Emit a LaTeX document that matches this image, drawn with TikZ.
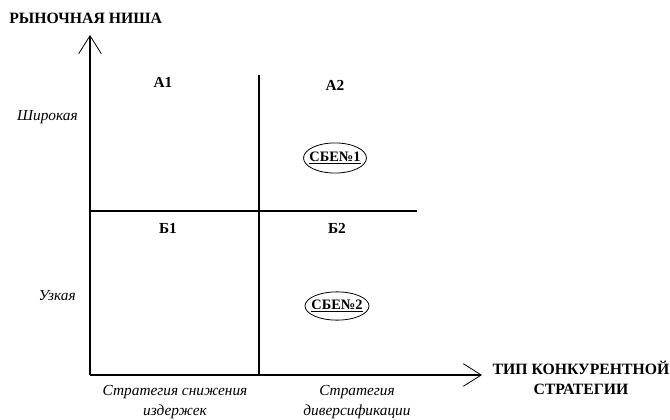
\documentclass[tikz,border=0pt]{standalone}
\usepackage{fontspec}
\setmainfont{Liberation Serif}
\usetikzlibrary{arrows.meta,shapes.geometric}
\begin{document}
\begin{tikzpicture}[x=0.75pt,y=-0.75pt,
  axis/.style={line width=0.8pt,-{Straight Barb[length=13.5pt,width=17pt,line width=0.6pt]}},
  divider/.style={line width=0.8pt},
  boldlbl/.style={font=\fontsize{11.8}{14}\selectfont\bfseries,inner sep=0pt},
  itlbl/.style={font=\fontsize{11.5}{14}\selectfont\itshape,inner sep=0pt},
  cell/.style={font=\fontsize{11.5}{14}\selectfont\bfseries,inner sep=0pt},
  sbetext/.style={inner sep=0pt,font=\fontsize{10.8}{13}\selectfont\bfseries},
  sbering/.style={draw,line width=0.6pt}
]
\useasboundingbox (0,0) rectangle (670,420);
\coordinate (o) at (90,375);
\coordinate (ytip) at (90,35);
\coordinate (xtip) at (482,375);
\coordinate (vtop) at (259,75);
\coordinate (vbot) at (259,375);
\coordinate (hl) at (90,211);
\coordinate (hr) at (417,211);
\draw[axis] (o) -- (ytip);
\draw[axis] (o) -- (xtip);
\draw[divider] (vtop) -- (vbot);
\draw[divider] (hl) -- (hr);

\node[boldlbl,anchor=west] (yl) at (9,18) {РЫНОЧНАЯ НИША};
\node[boldlbl,align=center] (xl) at (581,378) {ТИП КОНКУРЕНТНОЙ\\[1pt]СТРАТЕГИИ};

\node[cell] (a1) at (163,82) {А1};
\node[cell] (a2) at (335,85) {А2};
\node[cell] (b1) at (168,228) {Б1};
\node[cell] (b2) at (337,228) {Б2};

\node[itlbl,anchor=east] (wide) at (78,117) {Широкая};
\node[itlbl,anchor=east] (narrow) at (76,296) {Узкая};

\node[itlbl,align=center] (s1) at (175,402) {Стратегия снижения\\[1pt]издержек};
\node[itlbl,align=center] (s2) at (357,402) {Стратегия\\[1pt]диверсификации};

\node[sbetext] (sbe1) at (335,158) {\underline{СБЕ№1}};
\draw[sbering] (sbe1.center) ellipse [x radius=23.6pt, y radius=11.3pt];
\node[sbetext] (sbe2) at (337,306) {\underline{СБЕ№2}};
\draw[sbering] (sbe2.center) ellipse [x radius=24pt, y radius=10.6pt];
\end{tikzpicture}
\end{document}
